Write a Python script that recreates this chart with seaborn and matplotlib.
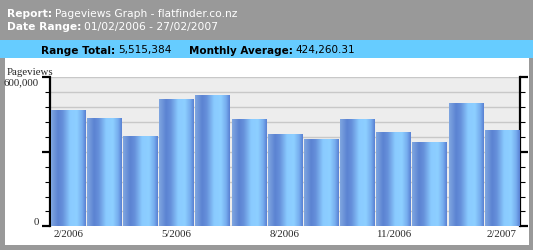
import numpy as np
import pandas as pd
import seaborn as sns
import matplotlib
matplotlib.use("Agg")
import matplotlib.pyplot as plt
from matplotlib.patches import Rectangle
from matplotlib.colors import LinearSegmentedColormap
from matplotlib.ticker import FixedLocator, MultipleLocator
from matplotlib.transforms import ScaledTranslation

# ---- data ----
months = ["2/2006", "3/2006", "4/2006", "5/2006", "6/2006", "7/2006", "8/2006",
          "9/2006", "10/2006", "11/2006", "12/2006", "1/2007", "2/2007"]
pageviews = [470000, 438000, 365500, 514500, 530500, 434000, 373500,
             353500, 434000, 381500, 337500, 494500, 388384]
shown_labels = ["2/2006", "5/2006", "8/2006", "11/2006", "2/2007"]
report_name = "Pageviews Graph - flatfinder.co.nz"
date_range = "01/02/2006 - 27/02/2007"
range_total = "5,515,384"
monthly_avg = "424,260.31"

W, H = 533, 251
fig = plt.figure(figsize=(W / 100, H / 100), dpi=100, facecolor="#999999")
sns.set_style("white")
plt.rcParams["font.family"] = ["DejaVu Sans"]

def px(x, y):
    return x / W, 1 - y / H

# panels
fig.patches.append(Rectangle(px(0, 59), 1, 18 / H, transform=fig.transFigure,
                             facecolor="#66CCFF", edgecolor="none", zorder=-5))
fig.patches.append(Rectangle(px(5, 246), (529 - 5) / W, (246 - 59) / H,
                             transform=fig.transFigure, facecolor="white",
                             edgecolor="none", zorder=-5))

fig.canvas.draw()
renderer = fig.canvas.get_renderer()

def pair(x, y, bold_txt, norm_txt, color, size=7.7):
    t = fig.text(*px(x, y), bold_txt, fontsize=size, fontweight="bold", color=color,
                 va="center", ha="left")
    bb = t.get_window_extent(renderer)
    fig.text(bb.x1 / W + 3 / W, 1 - y / H, norm_txt, fontsize=size, color=color,
             va="center", ha="left")
    return bb

pair(7, 14, "Report:", report_name, "white")
pair(7, 27, "Date Range:", date_range, "white")
pair(41, 50.5, "Range Total:", range_total, "black", size=7.6)
pair(189, 50.5, "Monthly Average:", monthly_avg, "black", size=7.5)

# axes
left, right, top, bottom = 50, 520, 78.3, 227.3
ax = fig.add_axes([left / W, 1 - bottom / H, (right - left) / W, (bottom - top) / H])
ax.set_zorder(5)
ax.set_facecolor("#EDEDED")

df = pd.DataFrame({"month": months, "views": pageviews})
sns.barplot(data=df, x="month", y="views", ax=ax, width=0.955, color="#7AA5E0",
            saturation=1, edgecolor="none", zorder=3)

grad_cmap = LinearSegmentedColormap.from_list(
    "cyl", [(0.0, "#7FA6E0"), (0.2, "#5B83D2"), (0.33, "#6690DA"),
            (0.55, "#8ACBFF"), (0.75, "#8DCFFF"), (0.9, "#76ACEE"),
            (1.0, "#5A82D3")])
grad = np.linspace(0, 1, 64).reshape(1, -1)
for p in list(ax.patches):
    x0, w, h = p.get_x(), p.get_width(), p.get_height()
    im = ax.imshow(grad, cmap=grad_cmap, aspect="auto", extent=[x0, x0 + w, 0, h],
                   zorder=4, interpolation="bilinear")
    im.set_clip_path(p)

ax.set_xlim(-0.5, len(months) - 0.5)
ax.set_ylim(0, 600000)
ax.set_aspect("auto")

serif = "Liberation Serif"
fs = 7.8
ax.yaxis.set_major_locator(FixedLocator([0, 300000, 600000]))
ax.yaxis.set_minor_locator(MultipleLocator(60000))
ax.set_yticklabels(["0", "", "600,000"], family=serif, fontsize=fs)
ylabels = ax.get_yticklabels()
ylabels[0].set_va("bottom")
ylabels[2].set_va("top")
ylabels[2].set_transform(ylabels[2].get_transform() +
                         ScaledTranslation(0, -2 / 100, fig.dpi_scale_trans))
ax.tick_params(axis="y", which="major", direction="out", length=6, width=1.6,
               left=True, right=True, pad=2.0, color="black")
ax.tick_params(axis="y", which="minor", direction="out", length=3.5, width=0.8,
               left=True, right=True, color="black")
ax.grid(axis="y", which="both", color="#C8C8C8", linewidth=1, zorder=1)
ax.set_axisbelow(True)

ax.set_xticks([months.index(m) for m in shown_labels])
ax.set_xticklabels(shown_labels, family=serif, fontsize=fs)
ax.tick_params(axis="x", length=0, pad=2.2)
ax.set_xlabel("")
ax.set_ylabel("")

for s in ["top", "bottom"]:
    ax.spines[s].set_visible(False)
for s in ["left", "right"]:
    ax.spines[s].set_visible(True)
    ax.spines[s].set_linewidth(1.6)
    ax.spines[s].set_color("black")

fig.text(*px(7, 72.5), "Pageviews", family=serif, fontsize=fs,
         va="center", ha="left", zorder=6)

fig.savefig("out.png", dpi=100, facecolor=fig.get_facecolor())
